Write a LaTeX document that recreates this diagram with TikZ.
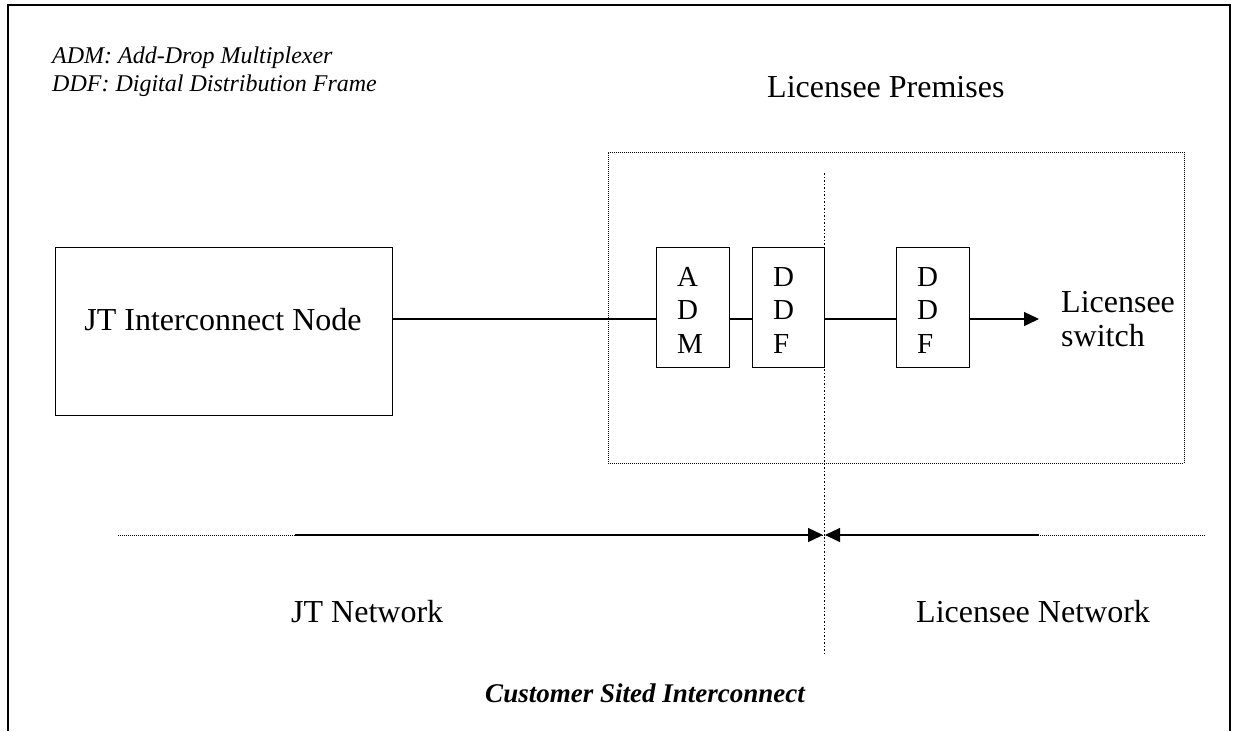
\documentclass[tikz,border=0pt]{standalone}
\usepackage{fontspec}
\setmainfont{Liberation Serif}
\usetikzlibrary{arrows.meta}
\begin{document}
\begin{tikzpicture}[x=1pt,y=-1pt,
  box/.style={draw,line width=1.3pt,inner sep=0pt,anchor=north west},
  dotbox/.style={draw,line width=0.8pt,dash pattern=on 1pt off 1pt,inner sep=0pt,anchor=north west},
  txt/.style={inner sep=0pt,anchor=base west},
  big/.style={font=\fontsize{32}{34}\selectfont},
  let/.style={txt,font=\fontsize{29}{33}\selectfont},
  conn/.style={line width=1.3pt},
  tip/.style={-{Triangle[length=15pt,width=14pt]}},
  vdot/.style={line width=1pt,dash pattern=on 1.5pt off 2pt},
  hdot/.style={line width=0.8pt,dash pattern=on 1pt off 1pt}]
\useasboundingbox (0,0) rectangle (1233,731);
% frame
\coordinate (f1) at (8,731);
\coordinate (f2) at (8,5);
\coordinate (f3) at (1230,5);
\coordinate (f4) at (1230,731);
\draw[line width=2pt] (f1) -- (f2) -- (f3) -- (f4);
% legend
\node[txt,font=\fontsize{24}{28}\selectfont\itshape] (leg1) at (52,63) {ADM: Add-Drop Multiplexer};
\node[txt,font=\fontsize{24}{28}\selectfont\itshape] (leg2) at (52,91) {DDF: Digital Distribution Frame};
% premises
\node[txt,big] (prem) at (767,97) {Licensee Premises};
\node[dotbox,minimum width=576pt,minimum height=311pt] (dbox) at (608,152) {};
% boxes
\node[box,minimum width=337pt,minimum height=168pt] (jt) at (55,247) {};
\node[txt,big,anchor=base] (jtl) at (223,330) {JT Interconnect Node};
\node[box,minimum width=73pt,minimum height=120pt] (adm) at (656,247) {};
\node[box,minimum width=72pt,minimum height=120pt] (ddfa) at (752,247) {};
\node[box,minimum width=73pt,minimum height=120pt] (ddfb) at (896,247) {};
\node[let] (a1) at (677,286) {A};
\node[let] (a2) at (677,319.5) {D};
\node[let] (a3) at (677,353) {M};
\node[let] (d1) at (773,286) {D};
\node[let] (d2) at (773,319.5) {D};
\node[let] (d3) at (773,353) {F};
\node[let] (e1) at (917,286) {D};
\node[let] (e2) at (917,319.5) {D};
\node[let] (e3) at (917,353) {F};
\node[big,align=left,anchor=north west,inner ysep=0pt,inner xsep=22pt] (sw) at (1039,291) {Licensee\\switch};
% connectors
\coordinate (ly) at (0,319);
\draw[conn] (jt.east |- ly) -- (adm.west |- ly);
\draw[conn] (adm.east |- ly) -- (ddfa.west |- ly);
\draw[conn] (ddfa.east |- ly) -- (ddfb.west |- ly);
\draw[conn,tip] (ddfb.east |- ly) -- (sw.west |- ly);
% boundary
\coordinate (vt) at (824,173);
\coordinate (vb) at (824,653);
\draw[vdot] (vt) -- (vb);
\coordinate (bl) at (118,535);
\coordinate (br) at (1205,535);
\coordinate (as) at (295,535);
\coordinate (at1) at (823,535);
\coordinate (bs) at (1039,535);
\coordinate (at2) at (825,535);
\draw[hdot] (bl) -- (br);
\draw[conn,tip] (as) -- (at1);
\draw[conn,tip] (bs) -- (at2);
% labels
\node[txt,big] (jtn) at (291,622) {JT Network};
\node[txt,big] (lin) at (916,622) {Licensee Network};
\node[txt,anchor=base,font=\fontsize{27}{30}\selectfont\bfseries\itshape] (cap) at (645,702) {Customer Sited Interconnect};
\end{tikzpicture}
\end{document}
